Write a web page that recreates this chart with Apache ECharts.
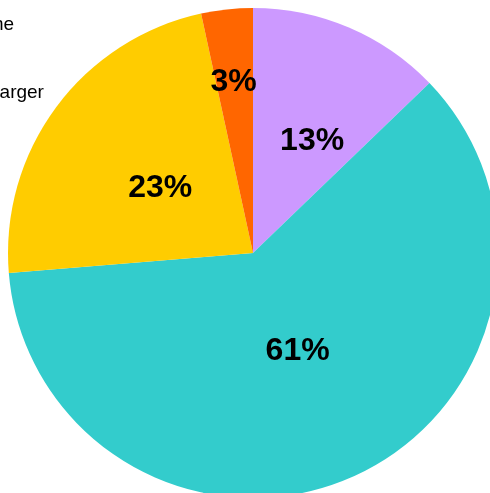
<!DOCTYPE html>
<html>
<head>
<meta charset="utf-8">
<script src="https://cdn.jsdelivr.net/npm/echarts@6/dist/echarts.min.js"></script>
<style>
  html, body { margin: 0; padding: 0; background: #fff; }
  #chart { width: 490px; height: 493px; }
</style>
</head>
<body>
<div id="chart"></div>
<script>
// slice names, in drawing order (clockwise from 12 o'clock)
const categories = ['Smaller', 'About the same', 'Larger', 'Much larger']
// shares (percent)
const values = [12.8, 60.9, 22.9, 3.4]
const colors = ['#cc99ff', '#33cccc', '#ffcc00', '#ff6600']
// nudges for the in-slice labels so they sit where the original put them
const labelNudge = [[10, 4], [-7, -16], [8, 10], [-6, -46]]

let myChart = echarts.init(document.getElementById('chart'))

let legendText = { color: '#000', fontSize: 19, fontFamily: 'Liberation Sans, Arial, sans-serif' }

let option = {
  animation: false,
  color: colors,
  legend: [
    {
      orient: 'vertical',
      left: -149,
      top: 15,
      padding: 0,
      z: 1,
      itemWidth: 25,
      itemHeight: 14,
      data: [categories[1]],
      textStyle: legendText
    },
    {
      orient: 'vertical',
      left: -41,
      top: 83,
      padding: 0,
      z: 1,
      itemWidth: 25,
      itemHeight: 14,
      data: [categories[2]],
      textStyle: legendText
    }
  ],
  series: [{
    type: 'pie',
    z: 2,
    center: [253, 253],
    radius: [0, 245],
    startAngle: 90,
    clockwise: true,
    percentPrecision: 0,
    label: {
      show: true,
      position: 'inside',
      formatter: '{d}%',
      color: '#000',
      fontSize: 32,
      fontWeight: 'bold',
      fontFamily: 'Liberation Sans, Arial, sans-serif'
    },
    labelLine: { show: false },
    itemStyle: { borderWidth: 0 },
    emphasis: { disabled: true },
    data: categories.map(function (name, i) {
      return { name: name, value: values[i], label: { offset: labelNudge[i] } }
    })
  }]
}
myChart.setOption(option)
</script>
</body>
</html>
